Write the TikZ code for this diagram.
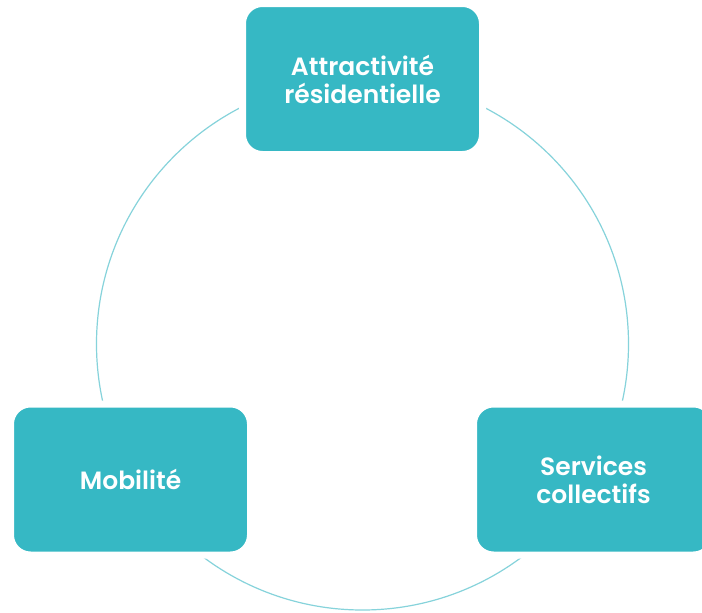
\documentclass[tikz,border=0pt]{standalone}
\usepackage{fontspec}
\setmainfont{Poppins}[UprightFont=* SemiBold, BoldFont=* Bold]
\definecolor{boxteal}{HTML}{36B8C4}
\definecolor{ringteal}{HTML}{86D3DB}
\begin{document}
\begin{tikzpicture}[x=1pt,y=-1pt,
  themebox/.style={rectangle, rounded corners=20pt, fill=boxteal, draw=white, line width=7pt,
    minimum width=240pt, minimum height=151pt, inner sep=0pt, text=white,
    font=\fontsize{25}{28}\selectfont, align=center}]
\useasboundingbox (0,0) rectangle (702,613);
\clip (0,0) rectangle (702,613);
\fill[white] (0,0) rectangle (702,613);
\draw[ringteal, line width=1.2pt] (362.5,344) circle (266);
\node[themebox] (attr) at (362.5,79) {Attractivité\\résidentielle};
\node[themebox] (mob) at (130.5,479.5) {Mobilité};
\node[themebox] (serv) at (593.5,479.5) {Services\\collectifs};
\end{tikzpicture}
\end{document}
